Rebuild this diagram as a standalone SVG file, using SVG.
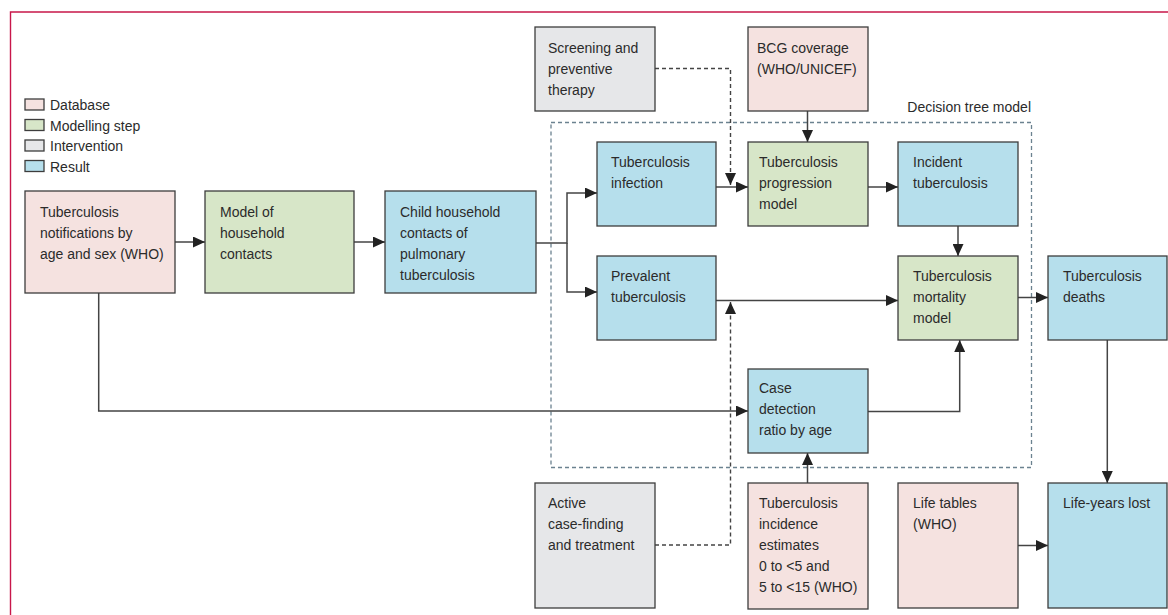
<svg xmlns="http://www.w3.org/2000/svg" width="1168" height="615" viewBox="0 0 1168 615">
<defs>
<style>
.t{font-family:"Liberation Sans",Arial,sans-serif;font-size:14px;fill:#2b2b2b}
.box{stroke:#3d3d3d;stroke-width:1.3}
.db{fill:#f5e2e0}
.mod{fill:#d7e6c8}
.int{fill:#e6e7e9}
.res{fill:#b6dfec}
.c{fill:none;stroke:#444;stroke-width:1.5}
.d{fill:none;stroke:#444;stroke-width:1.4;stroke-dasharray:4 3}
</style>
<marker id="ah" markerUnits="userSpaceOnUse" markerWidth="12" markerHeight="11" refX="12" refY="5.5" orient="auto">
<path d="M0,0 L12,5.5 L0,11 z" fill="#222"/>
</marker>
</defs>
<rect width="1168" height="615" fill="#fff"/>
<path d="M10.5,615 V12 H1168" fill="none" stroke="#c8174a" stroke-width="1.4"/>

<g id="legend">
<rect class="box db" x="25" y="99" width="19" height="11"/>
<text class="t" x="50" y="110">Database</text>
<rect class="box mod" x="25" y="119.5" width="19" height="11"/>
<text class="t" x="50" y="130.5">Modelling step</text>
<rect class="box int" x="25" y="140" width="19" height="11"/>
<text class="t" x="50" y="151">Intervention</text>
<rect class="box res" x="25" y="160.5" width="19" height="11"/>
<text class="t" x="50" y="171.5">Result</text>
</g>

<g id="decision-tree">
<rect x="551" y="122.5" width="480.5" height="345" fill="none" stroke="#6b8290" stroke-width="1.3" stroke-dasharray="4 3"/>
<text class="t" x="1031" y="112" text-anchor="end">Decision tree model</text>
</g>

<g id="connectors">
<path class="c" d="M175,242 H205" marker-end="url(#ah)"/>
<path class="c" d="M354,242 H385" marker-end="url(#ah)"/>
<path class="c" d="M536,243 H567 V193 H597" marker-end="url(#ah)"/>
<path class="c" d="M567,243 V292 H597" marker-end="url(#ah)"/>
<path class="c" d="M716,187 H748" marker-end="url(#ah)"/>
<path class="c" d="M868,187 H898" marker-end="url(#ah)"/>
<path class="c" d="M807.5,111 V142" marker-end="url(#ah)"/>
<path class="d" d="M655,68.5 H730.5 V185" marker-end="url(#ah)"/>
<path class="c" d="M958,226 V256" marker-end="url(#ah)"/>
<path class="c" d="M716,300.5 H898" marker-end="url(#ah)"/>
<path class="d" d="M655,545 H730.5 V302" marker-end="url(#ah)"/>
<path class="c" d="M98.7,293 V411 H748" marker-end="url(#ah)"/>
<path class="c" d="M868,411.5 H959.7 V340" marker-end="url(#ah)"/>
<path class="c" d="M807.5,483 V453" marker-end="url(#ah)"/>
<path class="c" d="M1018,297.5 H1048" marker-end="url(#ah)"/>
<path class="c" d="M1107.3,340 V483" marker-end="url(#ah)"/>
<path class="c" d="M1018,545.5 H1048" marker-end="url(#ah)"/>
</g>

<g id="notifications">
<rect class="box db" x="25" y="191" width="150" height="102"/>
<text class="t" x="40" y="217">Tuberculosis</text>
<text class="t" x="40" y="238">notifications by</text>
<text class="t" x="40" y="259">age and sex (WHO)</text>
</g>
<g id="household-model">
<rect class="box mod" x="205" y="191" width="149" height="102"/>
<text class="t" x="220" y="217">Model of</text>
<text class="t" x="220" y="238">household</text>
<text class="t" x="220" y="259">contacts</text>
</g>
<g id="child-contacts">
<rect class="box res" x="385" y="191" width="151" height="102"/>
<text class="t" x="400" y="217">Child household</text>
<text class="t" x="400" y="238">contacts of</text>
<text class="t" x="400" y="259">pulmonary</text>
<text class="t" x="400" y="280">tuberculosis</text>
</g>
<g id="screening">
<rect class="box int" x="535" y="27" width="120" height="84"/>
<text class="t" x="548" y="53">Screening and</text>
<text class="t" x="548" y="74">preventive</text>
<text class="t" x="548" y="95">therapy</text>
</g>
<g id="bcg">
<rect class="box db" x="748" y="27" width="120" height="84"/>
<text class="t" x="757" y="53">BCG coverage</text>
<text class="t" x="757" y="74">(WHO/UNICEF)</text>
</g>
<g id="infection">
<rect class="box res" x="597" y="142" width="119" height="84"/>
<text class="t" x="611" y="167">Tuberculosis</text>
<text class="t" x="611" y="188">infection</text>
</g>
<g id="progression">
<rect class="box mod" x="748" y="142" width="120" height="84"/>
<text class="t" x="759" y="167">Tuberculosis</text>
<text class="t" x="759" y="188">progression</text>
<text class="t" x="759" y="209">model</text>
</g>
<g id="incident">
<rect class="box res" x="898" y="142" width="120" height="84"/>
<text class="t" x="913" y="167">Incident</text>
<text class="t" x="913" y="188">tuberculosis</text>
</g>
<g id="prevalent">
<rect class="box res" x="597" y="256" width="119" height="84"/>
<text class="t" x="611" y="281">Prevalent</text>
<text class="t" x="611" y="302">tuberculosis</text>
</g>
<g id="mortality">
<rect class="box mod" x="898" y="256" width="120" height="84"/>
<text class="t" x="913" y="281">Tuberculosis</text>
<text class="t" x="913" y="302">mortality</text>
<text class="t" x="913" y="323">model</text>
</g>
<g id="deaths">
<rect class="box res" x="1048" y="256" width="119" height="84"/>
<text class="t" x="1063" y="281">Tuberculosis</text>
<text class="t" x="1063" y="302">deaths</text>
</g>
<g id="case-detection">
<rect class="box res" x="748" y="369" width="120" height="84"/>
<text class="t" x="759" y="393">Case</text>
<text class="t" x="759" y="414">detection</text>
<text class="t" x="759" y="435">ratio by age</text>
</g>
<g id="active-case-finding">
<rect class="box int" x="535" y="483" width="120" height="125"/>
<text class="t" x="548" y="508">Active</text>
<text class="t" x="548" y="529">case-finding</text>
<text class="t" x="548" y="550">and treatment</text>
</g>
<g id="incidence-estimates">
<rect class="box db" x="748" y="483" width="120" height="126"/>
<text class="t" x="759" y="508">Tuberculosis</text>
<text class="t" x="759" y="529">incidence</text>
<text class="t" x="759" y="550">estimates</text>
<text class="t" x="759" y="571">0 to &lt;5 and</text>
<text class="t" x="759" y="592">5 to &lt;15 (WHO)</text>
</g>
<g id="life-tables">
<rect class="box db" x="898" y="483" width="120" height="125"/>
<text class="t" x="913" y="508">Life tables</text>
<text class="t" x="913" y="529">(WHO)</text>
</g>
<g id="life-years-lost">
<rect class="box res" x="1048" y="483" width="119" height="125"/>
<text class="t" x="1063" y="508">Life-years lost</text>
</g>
</svg>
